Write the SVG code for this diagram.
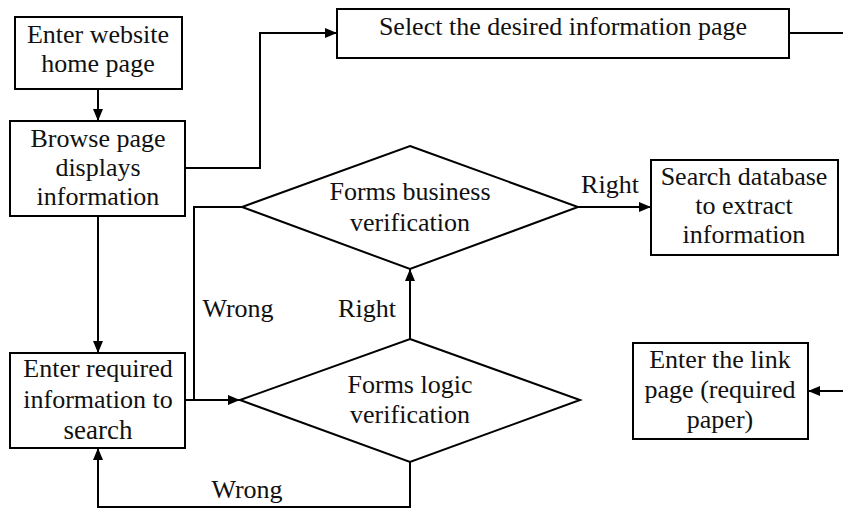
<svg xmlns="http://www.w3.org/2000/svg" width="843" height="509" viewBox="0 0 843 509">
<style>
.box{fill:#fff;stroke:#000;stroke-width:2}
.ln{fill:none;stroke:#000;stroke-width:2}
text{font-family:'Liberation Serif','Times New Roman',serif;font-size:26px;fill:#111;text-anchor:middle}
</style>
<defs>
<marker id="ah" viewBox="0 0 12 10" refX="12" refY="5" markerWidth="12" markerHeight="10" markerUnits="userSpaceOnUse" orient="auto">
<path d="M0,0L12,5L0,10Z" fill="#000"/>
</marker>
</defs>
<rect width="843" height="509" fill="#fff"/>
<g id="connectors">
<path class="ln" d="M98,89V121" marker-end="url(#ah)"/>
<path class="ln" d="M185,168H260V33H337" marker-end="url(#ah)"/>
<path class="ln" d="M789,33H843"/>
<path class="ln" d="M98,216V353" marker-end="url(#ah)"/>
<path class="ln" d="M185,400H240" marker-end="url(#ah)"/>
<path class="ln" d="M242,207H194V400"/>
<path class="ln" d="M410,339V269" marker-end="url(#ah)"/>
<path class="ln" d="M578,207H651" marker-end="url(#ah)"/>
<path class="ln" d="M410,462V507H98V448" marker-end="url(#ah)"/>
<path class="ln" d="M843,391H808" marker-end="url(#ah)"/>
<text x="238" y="317">Wrong</text>
<text x="367" y="317">Right</text>
<text x="610" y="193">Right</text>
<text x="247" y="498">Wrong</text>
</g>
<g id="home">
<rect class="box" x="15" y="17" width="167" height="72"/>
<text x="98" y="43">Enter website</text>
<text x="98" y="72">home page</text>
</g>
<g id="browse">
<rect class="box" x="10" y="121" width="175" height="95"/>
<text x="98" y="147">Browse page</text>
<text x="98" y="176">displays</text>
<text x="98" y="205">information</text>
</g>
<g id="select">
<rect class="box" x="337" y="9" width="452" height="49"/>
<text x="563" y="35">Select the desired information page</text>
</g>
<g id="business">
<polygon class="box" points="410,146 578,207 410,269 242,207"/>
<text x="410" y="200">Forms business</text>
<text x="410" y="231">verification</text>
</g>
<g id="search-db">
<rect class="box" x="651" y="160" width="187" height="95"/>
<text x="744" y="185">Search database</text>
<text x="744" y="214">to extract</text>
<text x="744" y="243">information</text>
</g>
<g id="enter-required">
<rect class="box" x="10" y="353" width="175" height="95"/>
<text x="98" y="377">Enter required</text>
<text x="98" y="408">information to</text>
<text x="98" y="439" style="font-size:27px">search</text>
</g>
<g id="logic">
<polygon class="box" points="410,339 580,400 410,462 240,400"/>
<text x="410" y="393">Forms logic</text>
<text x="410" y="423">verification</text>
</g>
<g id="link">
<rect class="box" x="633" y="343" width="175" height="96"/>
<text x="720" y="368">Enter the link</text>
<text x="720" y="398">page (required</text>
<text x="720" y="428">paper)</text>
</g>
</svg>
